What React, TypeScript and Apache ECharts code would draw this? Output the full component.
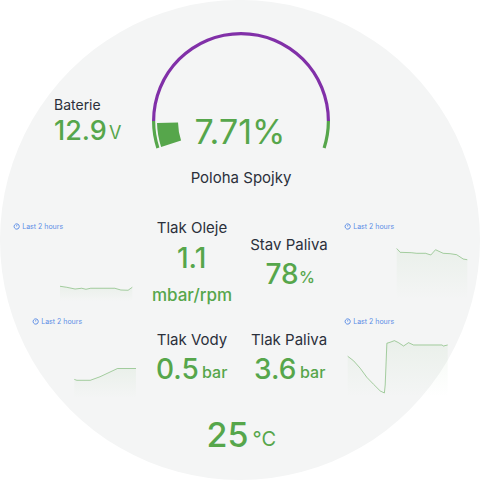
import React, { useEffect, useRef } from "react";
import * as echarts from "echarts";

const GREEN = "#56A64B";
const PURPLE = "#8130A8";
const DARK = "#2b303b";
const BLUE = "#5b8de6";
const FONT = "Inter";

const gaugeValue = 7.71;
const gaugeTitle = "Poloha Spojky";
const gaugeThresholds: [number, string][] = [[0.083, GREEN], [0.917, PURPLE], [1, GREEN]];

const oilPressure = [[0, 1.18], [11, 1.1], [25, 0.96], [36, 1.02], [43, 0.94], [51, 1.02], [91, 1.02], [101, 0.88], [113, 0.86], [120, 1.1]];
const fuelLevel = [[0, 100], [6, 92.5], [25, 91.8], [34, 90.6], [49, 90.6], [58, 87.3], [66, 97.6], [79, 90.6], [91, 89.8], [102, 87.8], [113, 79.4], [120, 78]];
const waterPressure = [[0, 0.315], [5, 0.3], [31, 0.3], [50, 0.36], [84, 0.5], [120, 0.5]];
const fuelPressure = [[0, 2.82], [7, 2.51], [15, 1.99], [23, 1.36], [31, 0.88], [39, 0.42], [44, 0.28], [45, 0.83], [47, 3.72], [51, 3.79], [56, 3.9], [61, 3.76], [67, 3.53], [73, 3.76], [79, 3.6], [113, 3.6], [115, 3.53], [120, 3.6]];

const sparkBoxes = [
  { data: oilPressure, left: 60, width: 72.3, top: 251, height: 50, max: 4 },
  { data: fuelLevel, left: 396.7, width: 70.6, top: 248.5, height: 51, max: 100 },
  { data: waterPressure, left: 74.3, width: 61.7, top: 339, height: 59, max: 1 },
  { data: fuelPressure, left: 347.7, width: 100, top: 339.2, height: 57.8, max: 4 },
];

const rangeLabels = [
  { text: "Last 2 hours", x: 16.7, y: 226.5 },
  { text: "Last 2 hours", x: 347.7, y: 226.5 },
  { text: "Last 2 hours", x: 35.7, y: 321.5 },
  { text: "Last 2 hours", x: 347.7, y: 321.5 },
];

const titles = [
  { text: "Baterie", x: 54, y: 104.5, size: 14, align: "left" },
  { text: "Tlak Oleje", x: 192, y: 227.5, size: 15, align: "center" },
  { text: "Stav Paliva", x: 289, y: 244.5, size: 15, align: "center" },
  { text: "Tlak Vody", x: 192, y: 339.5, size: 15, align: "center" },
  { text: "Tlak Paliva", x: 289, y: 339.5, size: 15, align: "center" },
];

const stats = [
  { value: "12.9", x: 54, y: 130, size: 27, unit: "V", ux: 109, uy: 132, usize: 18, uw: 400 },
  { value: "1.1", x: 177, y: 258, size: 28, unit: "", ux: 0, uy: 0, usize: 0, uw: 400 },
  { value: "78", x: 265.5, y: 274, size: 28, unit: "%", ux: 299, uy: 277, usize: 16, uw: 500 },
  { value: "0.5", x: 156, y: 369, size: 28, unit: "bar", ux: 202, uy: 372, usize: 16, uw: 500 },
  { value: "3.6", x: 254, y: 369, size: 28, unit: "bar", ux: 300, uy: 372, usize: 16, uw: 500 },
  { value: "25", x: 206.5, y: 434, size: 34, unit: "°C", ux: 252.5, uy: 439, usize: 20, uw: 400 },
];
const oilUnit = "mbar/rpm";

function txt(text: string, x: number, y: number, size: number, fill: string, align = "left", weight: any = 400) {
  return {
    type: "text", x, y,
    style: { text, fill, fontFamily: FONT, fontSize: size, fontWeight: weight, align, verticalAlign: "middle" },
  };
}

export default function App() {
  const ref = useRef<HTMLDivElement>(null);
  useEffect(() => {
    document.body.style.margin = "0";
    const chart = echarts.init(ref.current!, null, { renderer: "svg" });
    const gaugeBase = {
      type: "gauge", center: [241, 121], startAngle: 198, endAngle: -18, min: 0, max: 100,
      pointer: { show: false }, axisTick: { show: false }, splitLine: { show: false }, axisLabel: { show: false },
      silent: true,
    };
    const graphics: any[] = [
      { type: "circle", z: -10, shape: { cx: 240, cy: 240, r: 240 }, style: { fill: "#f4f5f5" } },
    ];
    rangeLabels.forEach((r) => {
      graphics.push({ type: "circle", shape: { cx: r.x, cy: r.y, r: 2.6 }, style: { fill: "none", stroke: BLUE, lineWidth: 1 } });
      graphics.push({ type: "line", shape: { x1: r.x, y1: r.y - 1.5, x2: r.x, y2: r.y }, style: { stroke: BLUE, lineWidth: 0.8 } });
      graphics.push(txt(r.text, r.x + 5.5, r.y, 7, BLUE));
    });
    titles.forEach((t) => graphics.push(txt(t.text, t.x, t.y, t.size, DARK, t.align)));
    stats.forEach((s) => {
      graphics.push(txt(s.value, s.x, s.y, s.size, GREEN, "left", 500));
      if (s.unit) graphics.push(txt(s.unit, s.ux, s.uy, s.usize, GREEN, "left", s.uw));
    });
    graphics.push(txt(oilUnit, 192, 295, 17, GREEN, "center", 500));

    chart.setOption({
      animation: false,
      backgroundColor: "#ffffff",
      graphic: graphics,
      grid: sparkBoxes.map((b) => ({ left: b.left, top: b.top, width: b.width, height: b.height })),
      xAxis: sparkBoxes.map((_, i) => ({ type: "value", gridIndex: i, min: 0, max: 120, show: false })),
      yAxis: sparkBoxes.map((b, i) => ({ type: "value", gridIndex: i, min: 0, max: b.max, show: false })),
      series: [
        {
          ...gaugeBase, radius: 89,
          axisLine: { lineStyle: { width: 3.2, color: gaugeThresholds } },
          progress: { show: false },
          detail: { show: false }, title: { show: false },
          data: [{ value: gaugeValue }],
        },
        {
          ...gaugeBase, radius: 84,
          axisLine: { show: false },
          progress: { show: true, width: 21, itemStyle: { color: GREEN } },
          detail: {
            valueAnimation: false, formatter: "{value}%", offsetCenter: [-1, 10],
            color: GREEN, fontFamily: FONT, fontSize: 34, fontWeight: 400,
          },
          title: { offsetCenter: [0, 56], color: DARK, fontFamily: FONT, fontSize: 15 },
          data: [{ value: gaugeValue, name: gaugeTitle }],
        },
        ...sparkBoxes.map((b, i) => ({
          type: "line", xAxisIndex: i, yAxisIndex: i, data: b.data, showSymbol: false, silent: true,
          lineStyle: { color: GREEN, opacity: 0.5, width: 1 },
          areaStyle: {
            color: new echarts.graphic.LinearGradient(0, 0, 0, 1, [
              { offset: 0, color: "rgba(86,166,75,0.09)" },
              { offset: 1, color: "rgba(86,166,75,0)" },
            ]),
          },
        })),
      ],
    });
    return () => chart.dispose();
  }, []);
  return <div ref={ref} style={{ position: "fixed", left: 0, top: 0, width: 480, height: 480 }} />;
}
